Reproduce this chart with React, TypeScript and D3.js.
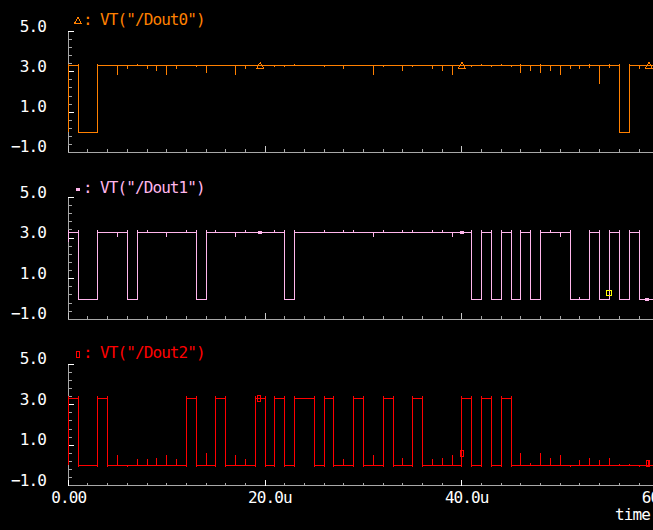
import { useRef, useEffect } from "react";
import * as d3 from "d3";

// time axis (microseconds)
const timeMax = 60;
const timeTicks = [0, 20, 40, 60];
const timeTickLabels = ["0.00", "20.0u", "40.0u", "60.0u"];
const timeMinorStep = 2;

// voltage axis
const voltMin = -1;
const voltMax = 5;
const voltTicks = [-1, 1, 3, 5];
const voltTickLabels = ["\u22121.0", "1.0", "3.0", "5.0"];
const voltMinorStep = 0.4;

const signalNames = ['VT("/Dout0")', 'VT("/Dout1")', 'VT("/Dout2")'];
const signalColors = ["#ff8000", "#ffb6ec", "#ff0000"];

const highLevel = 3.3;
const lowLevel = 0;

// edge times in us, each signal starts high
const dout0Edges = [1, 3, 56, 57];
const dout1Edges = [1, 3, 6, 7, 13, 14, 22, 23, 41, 42, 43, 44, 45, 46, 47, 48, 51, 53, 54, 55, 56, 57, 58];
const dout2Edges = [1, 3, 4, 12, 13, 15, 16, 19, 20, 21, 22, 23, 25, 26, 27, 29, 30, 32, 33, 35, 36, 40, 41, 42, 43, 44, 45];

// glitches: [time us, delta V from current level]
const dout0Glitches = [
  [5, -0.45], [6, -0.15], [7, 0.08], [8, -0.15], [9, -0.25], [10, -0.45], [11, -0.15],
  [13, -0.05], [14, -0.35], [17, -0.45], [18, -0.15], [21, -0.05], [22, -0.05], [23, 0.08],
  [26, -0.05], [28, -0.15], [31, -0.45], [32, -0.05], [34, -0.25], [35, -0.05], [37, -0.15],
  [38, -0.25], [39, -0.45], [41, -0.05], [42, 0.08], [43, -0.05], [44, 0.08], [45, -0.05],
  [46, 0.08], [46, -0.35], [47, -0.25], [48, 0.08], [48, -0.35], [49, -0.25], [50, -0.45],
  [51, -0.15], [52, -0.15], [53, 0.08], [53, -0.1], [54, -0.9], [55, 0.08], [55, -0.1], [58, -0.15],
];
const dout1Glitches = [
  [5, -0.23], [8, 0.08], [10, -0.23], [12, 0.08], [15, 0.08], [17, -0.23], [18, 0.08],
  [21, 0.08], [26, 0.08], [28, 0.08], [29, 0.08], [31, -0.23], [32, 0.08], [34, 0.08],
  [35, 0.08], [37, 0.08], [38, 0.08], [39, -0.23], [49, 0.08], [50, -0.23], [52, 0.1],
];
const dout2Glitches = [
  [5, 0.5], [6, -0.08], [7, 0.3], [8, 0.3], [9, 0.38], [10, 0.5], [11, 0.3], [14, 0.6],
  [17, 0.5], [18, 0.3], [28, 0.3], [31, 0.5], [34, 0.35], [37, 0.3], [38, 0.35], [39, 0.5],
  [46, 0.6], [47, 0.1], [48, 0.6], [49, 0.35], [50, 0.5], [51, -0.08], [52, 0.25], [53, 0.35],
  [54, 0.25], [55, 0.35], [56, 0.05], [57, 0.05], [58, -0.08], [59, 0.25],
];

// start value at t=0 and edge over/undershoot (V)
const startValues = [0, 2.8, 0];
const overshoots = [0.08, 0.08, 0.13];
const undershoots = [0.03, 0.05, 0.08];

// curve markers [time us, V]
const dout0Markers = [[19.5, 3.3], [40, 3.3], [59, 3.3]];
const dout1Markers = [[19.5, 3.3], [40, 3.3], [58.8, 0]];
const dout2Markers = [[19.4, 3.3], [40, 0.57], [58.9, 0.1]];

// cursor box on Dout1
const cursorPoint = [54.9, 0.28];

const signalEdges = [dout0Edges, dout1Edges, dout2Edges];
const signalGlitches = [dout0Glitches, dout1Glitches, dout2Glitches];
const signalMarkers = [dout0Markers, dout1Markers, dout2Markers];
const markerTypes = ["triangle", "bar", "box"];

function buildPoints(edges, glitches, start, over, under) {
  const events = [
    ...edges.map((t) => ({ t, kind: "edge", d: 0 })),
    ...glitches.map(([t, d]) => ({ t, kind: "glitch", d })),
  ].sort((a, b) => a.t - b.t);
  let level = highLevel;
  const pts = [[0, start], [0, highLevel + over], [0, highLevel]];
  events.forEach((e) => {
    if (e.kind === "edge") {
      const next = level === highLevel ? lowLevel : highLevel;
      pts.push([e.t, level], [e.t, highLevel + over], [e.t, lowLevel - under], [e.t, next]);
      level = next;
    } else {
      pts.push([e.t, level], [e.t, level + e.d], [e.t, level]);
    }
  });
  pts.push([timeMax + 1, level]);
  return pts;
}

function drawMarker(g, type, x, y, color) {
  if (type === "triangle") {
    g.append("path")
      .attr("d", `M${x - 3.5},${y + 2.5}L${x + 3.5},${y + 2.5}L${x},${y - 3.5}Z`)
      .attr("fill", "none")
      .attr("stroke", color);
  } else if (type === "bar") {
    g.append("rect").attr("x", x - 2).attr("y", y - 1.5).attr("width", 4).attr("height", 3).attr("fill", color);
  } else {
    g.append("rect")
      .attr("x", x - 1.5).attr("y", y - 3).attr("width", 3).attr("height", 6)
      .attr("fill", "none").attr("stroke", color);
  }
}

const App = () => {
  const chartRef = useRef(null);

  useEffect(() => {
    document.body.style.margin = "0";
    d3.select(chartRef.current).selectAll("*").remove();

    const width = 653;
    const height = 530;
    const plotLeft = 68.3;
    const panelTops = [31.7, 197.5, 364.3];
    const panelBottoms = [152.3, 319.3, 485.7];
    const titleBaselines = [25, 193, 358];
    const axisColor = "#a8a8a8";
    const font = "'DejaVu Sans Mono', monospace";

    const svg = d3
      .select(chartRef.current)
      .append("svg")
      .attr("width", width)
      .attr("height", height)
      .style("display", "block")
      .attr("shape-rendering", "crispEdges");

    svg.append("rect").attr("width", width).attr("height", height).attr("fill", "#000");

    const label = (sel) =>
      sel.style("font-family", font).style("font-size", "16px").style("letter-spacing", "-0.9px");

    const x = d3.scaleLinear().domain([0, timeMax]).range([plotLeft, plotLeft + 9.84 * timeMax]);

    signalNames.forEach((name, i) => {
      const color = signalColors[i];
      const y = d3.scaleLinear().domain([voltMin, voltMax]).range([panelBottoms[i], panelTops[i]]);
      const g = svg.append("g");

      // y axis
      g.append("line")
        .attr("x1", plotLeft).attr("x2", plotLeft)
        .attr("y1", y(voltMax)).attr("y2", y(voltMin))
        .attr("stroke", axisColor);
      d3.range(voltMin, voltMax + 0.001, voltMinorStep).forEach((v) => {
        const major = voltTicks.some((m) => Math.abs(m - v) < 0.01);
        g.append("line")
          .attr("x1", plotLeft).attr("x2", plotLeft + (major ? 6 : 3.5))
          .attr("y1", y(v)).attr("y2", y(v))
          .attr("stroke", major ? "#ffffff" : axisColor);
      });
      voltTicks.forEach((v, k) => {
        g.append("text")
          .attr("x", 46).attr("y", y(v))
          .attr("text-anchor", "end")
          .attr("fill", "#fff")
          .call(label)
          .text(voltTickLabels[k]);
      });

      // x axis
      g.append("line")
        .attr("x1", plotLeft).attr("x2", width)
        .attr("y1", y(voltMin)).attr("y2", y(voltMin))
        .attr("stroke", axisColor);
      d3.range(0, timeMax + 0.001, timeMinorStep).forEach((t) => {
        const major = timeTicks.includes(t);
        g.append("line")
          .attr("x1", x(t)).attr("x2", x(t))
          .attr("y1", y(voltMin)).attr("y2", y(voltMin) - (major ? 6 : 3))
          .attr("stroke", major && i === 2 ? "#ffffff" : major ? "#c8c8c8" : axisColor);
      });

      // title with legend marker
      const titleY = titleBaselines[i];
      drawMarker(g, markerTypes[i], 78, titleY - 4, color);
      g.append("text")
        .attr("x", 83).attr("y", titleY)
        .attr("fill", color)
        .call(label)
        .text(":");
      g.append("text")
        .attr("x", 100).attr("y", titleY)
        .attr("fill", color)
        .call(label)
        .text(name);

      // waveform
      const pts = buildPoints(signalEdges[i], signalGlitches[i], startValues[i], overshoots[i], undershoots[i]);
      const line = d3.line().x((d) => x(d[0])).y((d) => y(d[1]));
      g.append("path")
        .attr("d", line(pts))
        .attr("fill", "none")
        .attr("stroke", color)
        .attr("stroke-width", 1);

      signalMarkers[i].forEach(([t, v]) => drawMarker(g, markerTypes[i], x(t), y(v), color));

      if (i === 1) {
        g.append("rect")
          .attr("x", x(cursorPoint[0]) - 2.5).attr("y", y(cursorPoint[1]) - 2.5)
          .attr("width", 5).attr("height", 5)
          .attr("fill", "none").attr("stroke", "#ffff00");
      }

      // time labels on bottom panel
      if (i === 2) {
        timeTicks.forEach((t, k) => {
          g.append("text")
            .attr("x", x(t) - 17).attr("y", 502.7)
            .attr("fill", "#fff")
            .call(label)
            .text(timeTickLabels[k]);
        });
        g.append("text")
          .attr("x", 615).attr("y", 520)
          .attr("fill", "#fff")
          .call(label)
          .text("time");
      }
    });
  }, []);

  return <div ref={chartRef}></div>;
};

export default App;
